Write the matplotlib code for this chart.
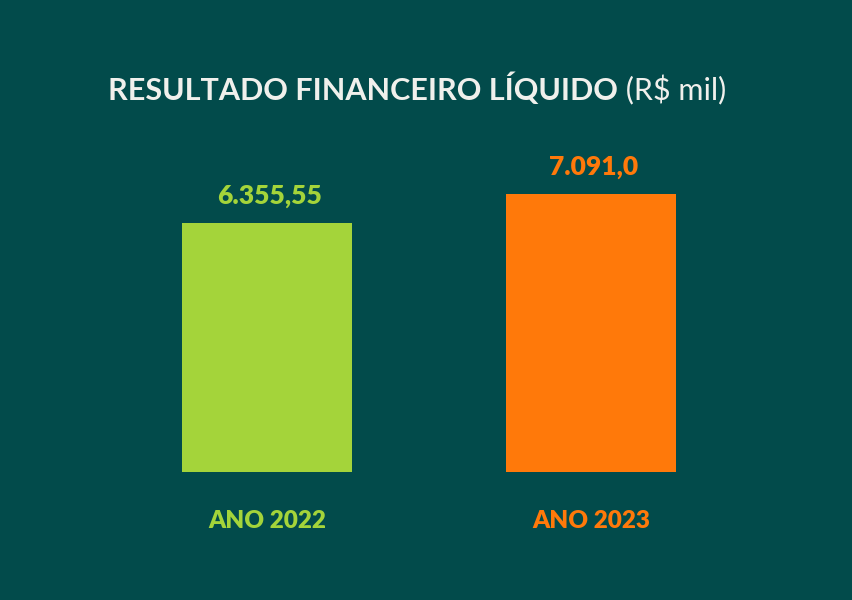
import matplotlib
matplotlib.use("Agg")
import matplotlib.pyplot as plt

# dados do gráfico
categorias = ["ANO 2022", "ANO 2023"]
valores = [6355.55, 7091.0]
rotulos_valores = ["6.355,55", "7.091,0"]
titulo_negrito = "RESULTADO FINANCEIRO LÍQUIDO"
titulo_unidade = " (R$ mil)"

cores = ["#A4D43A", "#FF790A"]
fundo = "#024B4B"
cor_titulo = "#F0F0EC"

W, H = 852, 600
fig = plt.figure(figsize=(W / 100, H / 100), dpi=100, facecolor=fundo)

# eixo ocupa da base das barras (y=472 px) até o topo da figura
base_px = 472
ax = fig.add_axes([0, (H - base_px) / H, 1, base_px / H])
ax.set_facecolor(fundo)
for s in ax.spines.values():
    s.set_visible(False)
ax.set_xticks([])
ax.set_yticks([])

# escala: centro das barras em 267 e 591 px, largura 170 px
px_por_un = 591 - 267
ax.set_xlim(-267 / px_por_un, (W - 267) / px_por_un)
# 7091 -> 278 px de altura
ax.set_ylim(0, valores[1] * base_px / 278)

x = list(range(len(categorias)))
ax.bar(x, valores, width=170 / px_por_un, color=cores)

fonte = "Lato"
for xi, v, lab, c in zip(x, valores, rotulos_valores, cores):
    ax.annotate(lab, xy=(xi, v), xytext=(2, 11), textcoords="offset points",
                ha="center", va="bottom", color=c, fontsize=19,
                fontweight="heavy", family=fonte)

# rótulos das categorias abaixo das barras
for xi, cat, c in zip(x, categorias, cores):
    fig.text((267 + xi * px_por_un) / W, 1 - 521 / H, cat, ha="center",
             va="center", color=c, fontsize=17.5, fontweight="heavy", family=fonte)

# título em duas partes (negrito + regular)
t1 = fig.text(108 / W, 1 - 100 / H, titulo_negrito, ha="left", va="baseline",
              color=cor_titulo, fontsize=22, fontweight="bold", family=fonte)
ax.annotate(titulo_unidade, xy=(1, 0), xycoords=t1, va="bottom", ha="left",
            color=cor_titulo, fontsize=22, fontweight="normal", family=fonte,
            annotation_clip=False)

fig.savefig("out.png", dpi=100, facecolor=fundo)
